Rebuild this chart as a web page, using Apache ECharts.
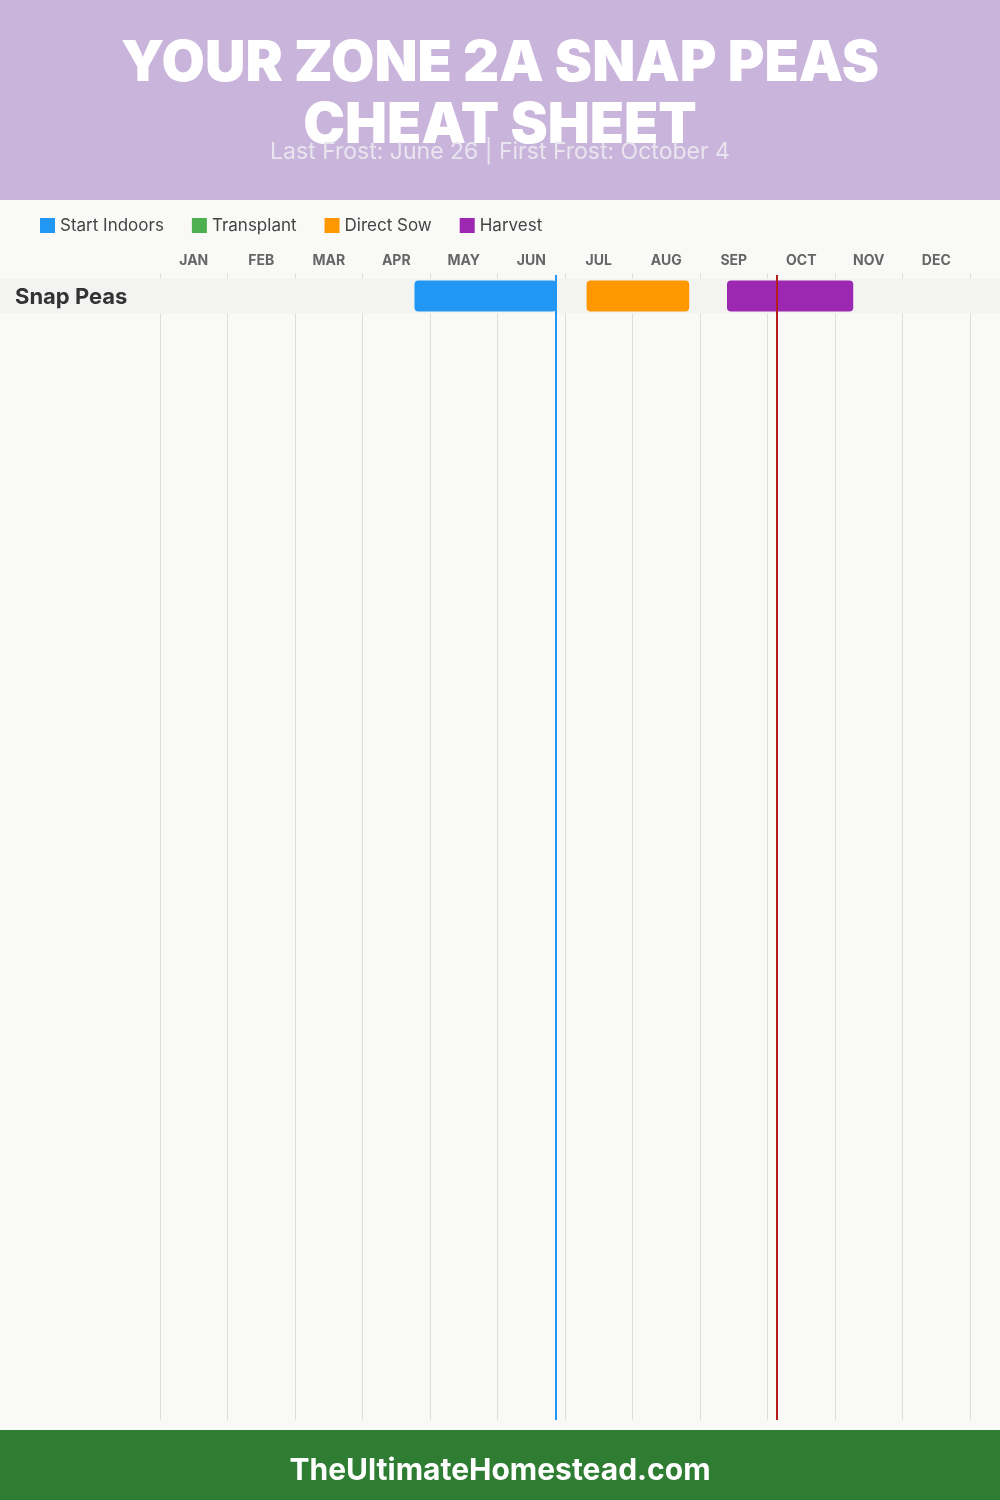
<!DOCTYPE html>
<html><head><meta charset="utf-8">
<script src="https://cdn.jsdelivr.net/npm/echarts@6/dist/echarts.min.js"></script>
<style>html,body{margin:0;padding:0;background:#f9f9f7}#c{width:1000px;height:1500px}</style>
</head><body><div id="c"></div>
<script>
const months = ['JAN','FEB','MAR','APR','MAY','JUN','JUL','AUG','SEP','OCT','NOV','DEC'];
const crops = ['Snap Peas'];
// [cropIndex, start (month fraction), end (month fraction)]
const startIndoors = [[0, 3.77, 5.87]];
const transplant = [];
const directSow = [[0, 6.32, 7.84]];
const harvest = [[0, 8.40, 10.27]];
const lastFrost = 5.87;   // June 26
const firstFrost = 9.13;  // October 4
const titleLines = ['YOUR ZONE 2A SNAP PEAS', 'CHEAT SHEET'];
const subtitle = 'Last Frost: June 26 | First Frost: October 4';
const footer = 'TheUltimateHomestead.com';

const FONT = 'Inter, "Noto Sans", sans-serif';
const chart = echarts.init(document.getElementById('c'));

function barRender(params, api) {
  const row = api.value(0);
  const p0 = api.coord([api.value(1), row]);
  const p1 = api.coord([api.value(2), row + 1]);
  return {
    type: 'rect',
    shape: { x: p0[0], y: p0[1] + 2, width: p1[0] - p0[0], height: p1[1] - p0[1] - 4, r: 4 },
    style: { fill: api.visual('color') }
  };
}
function barSeries(name, color, data) {
  return { name, type: 'custom', renderItem: barRender, data, itemStyle: { color },
    encode: { x: [1, 2], y: 0 }, z: 3 };
}

chart.setOption({
  backgroundColor: '#f9f9f7',
  animation: false,
  graphic: [
    { type: 'rect', left: 0, top: 0, shape: { width: 1000, height: 200 }, style: { fill: '#c9b4dc' }, z: -1 },
    { type: 'text', left: 'center', top: 36, style: { text: titleLines[0], fill: '#fff', font: '900 56px ' + FONT } },
    { type: 'text', left: 'center', top: 98, style: { text: titleLines[1], fill: '#fff', font: '900 56px ' + FONT } },
    { type: 'text', left: 'center', top: 141, style: { text: subtitle, fill: '#e9e5ee', font: '400 23px ' + FONT } },
    { type: 'rect', left: 0, top: 1430, shape: { width: 1000, height: 70 }, style: { fill: '#2e7d32' } },
    { type: 'text', left: 'center', top: 1456, style: { text: footer, fill: '#fff', font: '700 30px ' + FONT } }
  ],
  legend: {
    data: ['Start Indoors', 'Transplant', 'Direct Sow', 'Harvest'],
    left: 40, top: 217, padding: 0, icon: 'rect', itemWidth: 15, itemHeight: 15, itemGap: 28,
    textStyle: { fontFamily: FONT, fontSize: 17, color: '#444' },
    selectedMode: false
  },
  grid: { left: 160, right: 30, top: 275, bottom: 80 },
  xAxis: [
    { type: 'value', min: 0, max: 12, interval: 1, position: 'top',
      axisLine: { show: false }, axisLabel: { show: false },
      axisTick: { show: true, inside: false, length: 5, lineStyle: { color: '#dddddd' } },
      splitLine: { show: true, lineStyle: { color: '#dddddd', width: 1 } } },
    { type: 'category', data: months, position: 'top', boundaryGap: true,
      axisLine: { show: false }, axisTick: { show: false }, splitLine: { show: false },
      axisLabel: { margin: 7, fontFamily: FONT, fontSize: 14, fontWeight: 'bold', color: '#666' } }
  ],
  yAxis: { type: 'value', inverse: true, min: -0.1, max: 32.6, show: false, splitLine: { show: false } },
  series: [
    { name: 'rows', type: 'custom', clip: false, z: 1,
      data: crops.map((c, i) => [i, c]),
      encode: { y: 0 },
      renderItem: function (params, api) {
        const i = api.value(0);
        const a = api.coord([0, i]);
        const b = api.coord([0, i + 1]);
        return { type: 'group', children: [
          { type: 'rect', shape: { x: 0, y: a[1], width: api.getWidth(), height: b[1] - a[1] }, style: { fill: '#f3f3f2' } },
          { type: 'text', x: 15, y: (a[1] + b[1]) / 2 + 1, style: { text: crops[i], fill: '#333', font: '700 22px ' + FONT, verticalAlign: 'middle' } }
        ] };
      },
      markLine: {
        silent: true, symbol: 'none', label: { show: false },
        data: [
          { xAxis: lastFrost, lineStyle: { color: '#2196f3', width: 2, type: 'solid' } },
          { xAxis: firstFrost, lineStyle: { color: '#b71c1c', width: 2, type: 'solid' } }
        ]
      }
    },
    barSeries('Start Indoors', '#2196f3', startIndoors),
    barSeries('Transplant', '#4caf50', transplant),
    barSeries('Direct Sow', '#ff9800', directSow),
    barSeries('Harvest', '#9c27b0', harvest)
  ]
});
</script></body></html>
